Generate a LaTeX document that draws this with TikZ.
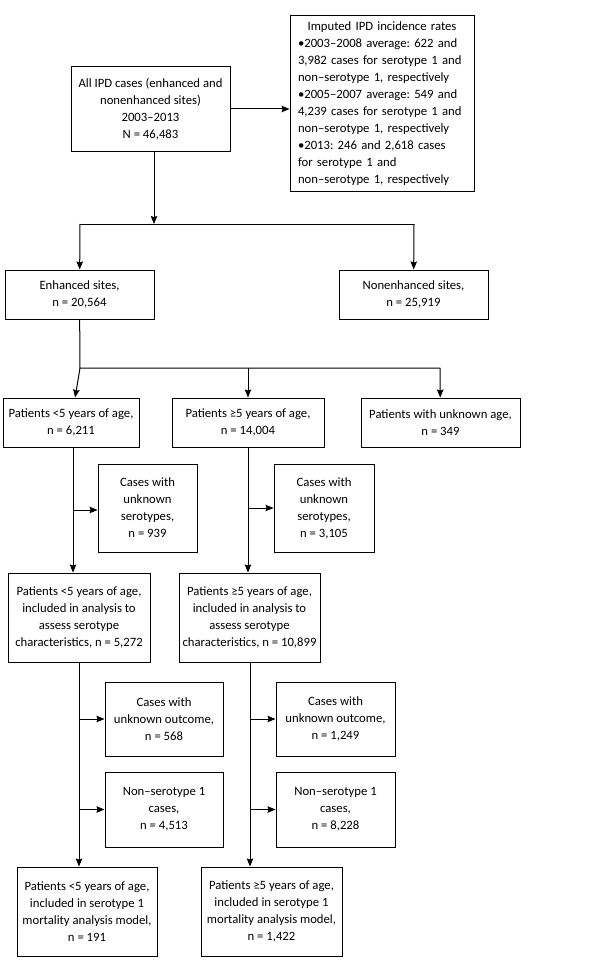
\documentclass[tikz,border=0pt]{standalone}
\usepackage{fontspec}
\setmainfont{Carlito}
\frenchspacing
\usetikzlibrary{arrows.meta}
\begin{document}
\begin{tikzpicture}[x=1pt, y=-1pt,
      box/.style={draw, line width=1pt, align=center, inner sep=2pt,
                  font=\fontsize{12.7}{17}\selectfont},
      arr/.style={line width=1pt, -{Stealth[length=8pt, width=6.5pt, inset=1pt]}},
      line/.style={line width=1pt}]
      \useasboundingbox[fill=white] (0, 0) rectangle (600, 971);
      \node (all) [box, minimum width=159pt, minimum height=84pt] at (150.5, 109)
            {All IPD cases (enhanced and\\nonenhanced sites)\\2003–2013\\N = 46,483};
      \node (imp) [box, minimum width=184pt, minimum height=175pt, text width=168pt, align=left] at (382, 103.5)
            {\makebox[168pt][c]{Imputed IPD incidence rates}\\
             •2003–2008 average: 622 and\\3,982 cases for serotype 1 and\\non–serotype 1, respectively\\
             •2005–2007 average: 549 and\\4,239 cases for serotype 1 and\\non–serotype 1, respectively\\
             •2013: 246 and 2,618 cases\\for serotype 1 and\\non–serotype 1, respectively};
      \node (enh) [box, minimum width=149pt, minimum height=49pt] at (79.5, 294.5) {Enhanced sites,\\n = 20,564};
      \node (nonenh) [box, minimum width=149pt, minimum height=49pt] at (413.5, 294.5) {Nonenhanced sites,\\n = 25,919};
      \node (lt5) [box, minimum width=136pt, minimum height=49pt] at (71, 422.5) {Patients <5 years of age,\\n = 6,211};
      \node (ge5) [box, minimum width=152pt, minimum height=49pt] at (248, 422.5) {Patients ≥5 years of age,\\n = 14,004};
      \node (unk) [box, minimum width=159pt, minimum height=49pt] at (440.5, 422.5) {Patients with unknown age,\\n = 349};
      \node (serolt) [box, minimum width=99pt, minimum height=88pt] at (147.5, 508) {Cases with\\unknown\\serotypes,\\n = 939};
      \node (seroge) [box, minimum width=100pt, minimum height=88pt] at (324, 508) {Cases with\\unknown\\serotypes,\\n = 3,105};
      \node (inclt) [box, minimum width=142pt, minimum height=89pt] at (79, 617.5)
            {Patients <5 years of age,\\included in analysis to\\assess serotype\\characteristics, n = 5,272};
      \node (incge) [box, minimum width=141pt, minimum height=89pt] at (249.5, 617.5)
            {Patients ≥5 years of age,\\included in analysis to\\assess serotype\\characteristics, n = 10,899};
      \node (outlt) [box, minimum width=118pt, minimum height=74pt] at (164, 719) {Cases with\\unknown outcome,\\n = 568};
      \node (outge) [box, minimum width=119pt, minimum height=74pt] at (335.5, 719) {Cases with\\unknown outcome,\\n = 1,249};
      \node (nonlt) [box, minimum width=118pt, minimum height=75pt] at (164, 809.5) {Non–serotype 1\\cases,\\n = 4,513};
      \node (nonge) [box, minimum width=119pt, minimum height=75pt] at (335.5, 809.5) {Non–serotype 1\\cases,\\n = 8,228};
      \node (mortlt) [box, minimum width=140pt, minimum height=89pt] at (87, 911.5)
            {Patients <5 years of age,\\included in serotype 1\\mortality analysis model,\\n = 191};
      \node (mortge) [box, minimum width=141pt, minimum height=89pt] at (271.5, 911.5)
            {Patients ≥5 years of age,\\included in serotype 1\\mortality analysis model,\\n = 1,422};
      \coordinate (split) at (154, 224);
      \coordinate (sl) at (80, 224);
      \coordinate (sr) at (414, 224);
      \coordinate (al) at (80, 368);
      \coordinate (am) at (248, 368);
      \coordinate (ar) at (440, 368);
      \draw[arr] (all.east) -- (all.east -| imp.west);
      \draw[arr] (all.south -| split) -- (split);
      \draw[line] (sl) -- (sr);
      \draw[arr] (sl) -- (enh);
      \draw[arr] (sr) -- (nonenh);
      \draw[line] (enh) -- (al) -- (ar);
      \draw[arr] (al) -- (lt5);
      \draw[arr] (am) -- (ge5);
      \draw[arr] (ar) -- (unk);
      \draw[arr] (lt5.south -| 73, 0) -- (inclt.north -| 73, 0);
      \draw[arr] (73, 510) -- (serolt.west |- 0, 510);
      \draw[arr] (ge5) -- (incge.north -| ge5);
      \draw[arr] (248, 508) -- (seroge.west |- 0, 508);
      \draw[arr] (inclt) -- (mortlt.north -| inclt);
      \draw[arr] (79, 719) -- (outlt);
      \draw[arr] (79, 809.5) -- (nonlt);
      \draw[arr] (incge.south -| 250, 0) -- (mortge.north -| 250, 0);
      \draw[arr] (250, 719) -- (outge);
      \draw[arr] (250, 809.5) -- (nonge);
\end{tikzpicture}
\end{document}
